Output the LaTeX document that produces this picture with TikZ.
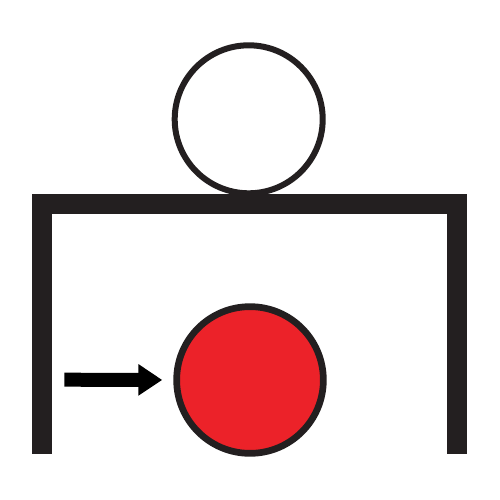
\documentclass[tikz,border=0pt]{standalone}
\usetikzlibrary{arrows.meta}
\definecolor{ink}{HTML}{231F20}
\definecolor{ballred}{HTML}{EC2229}
\tikzset{
  ring/.style={circle, draw=ink, inner sep=0pt},
  tablebar/.style={draw=ink, line width=20pt, line join=miter, line cap=butt},
  pusharrow/.style={draw=black, line width=14pt, -{Triangle[length=24pt,width=30pt]}}
}
\begin{document}
\begin{tikzpicture}[x=1pt,y=-1pt]
\useasboundingbox (0,0) rectangle (500,500);
\fill[white] (0,0) rectangle (500,500);
\node[ring, line width=6pt, minimum size=148pt, fill=white] (head) at (248.7,119.3) {};
\coordinate (lb) at (42,453.7);
\coordinate (lt) at (42,203.5);
\coordinate (rt) at (457,203.5);
\coordinate (rb) at (457,453.7);
\draw[tablebar] (lb) -- (lt) -- (rt) -- (rb);
\node[ring, line width=6.7pt, minimum size=146.7pt, fill=ballred] (ball) at (250,380) {};
\coordinate (start) at (64.3,379.7);
\draw[pusharrow, shorten >=11pt] (start) -- (ball.west);
\end{tikzpicture}
\end{document}
